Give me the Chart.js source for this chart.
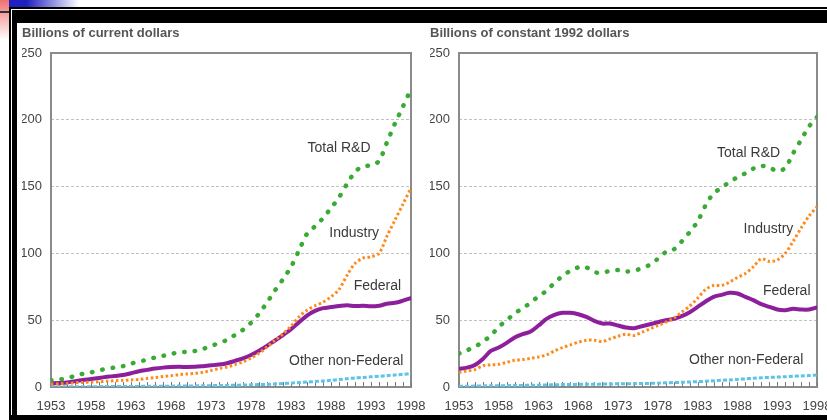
<!DOCTYPE html>
<html><head><meta charset="utf-8">
<script src="https://cdn.jsdelivr.net/npm/chart.js@4"></script>
<style>
html,body{margin:0;padding:0;background:#fff;width:827px;height:420px;overflow:hidden;position:relative}
.d{position:absolute}
canvas{position:absolute}
</style></head><body>
<div class="d" style="left:0;top:0;width:9px;height:40px;background:linear-gradient(#f07070,#fff)"></div>
<div class="d" style="left:9px;top:0;width:70px;height:7px;background:linear-gradient(to right,#2020c0,#2020c0 25%,#fff)"></div>
<div class="d" style="left:9px;top:7px;right:0;height:2px;background:#000"></div>
<div class="d" style="left:12px;top:10px;right:0;height:13px;background:#000"></div>
<div class="d" style="left:9px;top:7px;width:2px;bottom:0;background:#000"></div>
<div class="d" style="left:12px;top:10px;width:5px;bottom:0;background:#000"></div>
<div class="d" style="left:9px;top:415px;right:0;bottom:0;background:#000"></div>
<div class="d" style="left:0;top:11px;width:9px;height:2px;background:#333"></div>
<canvas id="c1" style="left:17px;top:23px" width="413" height="392"></canvas>
<canvas id="c2" style="left:418px;top:23px" width="420" height="392"></canvas>
<script>
const years = [1953,1954,1955,1956,1957,1958,1959,1960,1961,1962,1963,1964,1965,1966,1967,1968,1969,1970,1971,1972,1973,1974,1975,1976,1977,1978,1979,1980,1981,1982,1983,1984,1985,1986,1987,1988,1989,1990,1991,1992,1993,1994,1995,1996,1997,1998];
const xTickLabels = ['1953','1958','1963','1968','1973','1978','1983','1988','1993','1998'];
const yTickValues = [0,50,100,150,200,250];
const seriesNames = ['Total R&D','Industry','Federal','Other non-Federal'];
const titleLeft = 'Billions of current dollars';
const titleRight = 'Billions of constant 1992 dollars';

const currentTotal = [5.1,5.7,6.3,8.5,9.9,10.9,12.5,13.7,14.6,15.6,17.5,19.1,20.3,22.1,23.3,24.7,26.0,26.3,27.0,28.5,30.7,32.9,35.2,39.0,42.8,48.1,54.9,63.2,72.3,80.7,89.9,102.2,114.7,120.2,126.4,133.9,141.9,152.0,160.9,165.4,165.7,169.2,183.2,197.3,210.0,223.0];
const currentIndustry = [2.2,2.4,2.5,3.2,3.4,3.6,3.9,4.4,4.7,5.0,5.3,5.7,6.4,7.1,7.8,8.5,9.3,9.8,10.2,11.0,12.3,13.8,15.0,16.8,18.8,21.6,25.2,30.0,35.0,39.8,45.5,52.5,57.5,60.8,63.5,67.5,73.0,83.5,92.5,96.5,97.5,100.0,113.0,125.0,137.0,149.0];
const currentFederal = [2.8,3.0,3.4,4.4,5.3,6.0,6.8,7.6,8.3,9.0,10.3,11.8,12.8,13.8,14.5,14.9,15.1,15.0,15.1,15.6,16.2,16.8,17.8,19.6,21.5,24.0,27.2,30.8,34.8,38.8,43.2,48.5,53.5,57.0,59.0,59.8,60.6,61.2,60.6,60.8,60.4,60.8,62.3,63.0,64.6,66.5];
const currentOther = [0.15,0.17,0.19,0.21,0.23,0.26,0.28,0.31,0.33,0.36,0.4,0.44,0.5,0.55,0.6,0.65,0.7,0.75,0.8,0.9,1.0,1.1,1.2,1.3,1.45,1.6,1.8,2.0,2.3,2.6,2.9,3.3,3.7,4.1,4.5,5.0,5.6,6.2,6.8,7.2,7.6,8.0,8.5,9.0,9.5,10.0];

const constantTotal = [25,27.5,30,34,38.5,45,50,55,59,63,68,72,78,83,87,89.5,89.5,86,85.5,87,87.5,86.5,87,89,91.5,96,101,103,109,116,124,136,145,149,153.5,157,160,163.5,165.5,164.5,161.5,164,175,185,195,202];
const constantIndustry = [11,12,13,16,16.5,17,18.5,20,20.5,21.5,22.5,24,27,29.5,31.5,33.5,35,35,34,36,38,39.5,38.5,41,43.5,46,48.5,51.5,56,60.5,66.5,73,76,76,78.5,82,85,90,96,94,95,100,109,119,128,135];
const constantFederal = [13.5,14.5,16.5,21,27,29.5,33,37,39.5,41.5,46,51,54,55.5,55.5,54.5,52.5,49.5,47.5,47.5,46,44.5,44,45.5,47,48.5,50,51,53,56,60,64,67.5,69,70.5,70,67.5,65,62,60,58,57.5,58.5,58,58,59.5];
const constantOther = [0.6,0.6,0.7,0.8,0.9,1.0,1.0,1.1,1.2,1.3,1.4,1.5,1.7,1.8,1.9,2.0,2.1,2.1,2.2,2.3,2.4,2.5,2.5,2.6,2.7,2.9,3.1,3.3,3.5,3.8,4.0,4.3,4.6,5.0,5.3,5.7,6.1,6.5,6.9,7.2,7.4,7.7,8.0,8.3,8.6,9.0];

const FONT = '"Liberation Sans", Arial, Helvetica, sans-serif';
const styles = [
  {borderColor:'#3aaa35', borderWidth:4.5, borderDash:[0.5,10], borderCapStyle:'round'},
  {borderColor:'#ff8a1c', borderWidth:3, borderDash:[2.5,2.5], borderCapStyle:'butt'},
  {borderColor:'#8e1f9c', borderWidth:4, borderDash:[], borderCapStyle:'round'},
  {borderColor:'#5cc4e6', borderWidth:3, borderDash:[4,2], borderCapStyle:'butt'}
];

const framePlugin = {
  id:'frame',
  beforeDatasetsDraw(chart){
    const {ctx, chartArea:a} = chart; const x = chart.scales.x;
    ctx.save(); ctx.strokeStyle='#8a8a8a'; ctx.lineWidth=2;
    ctx.strokeRect(a.left, a.top, a.right-a.left, a.bottom-a.top);
    ctx.lineWidth=1; ctx.strokeStyle='#7a7a7a';
    ctx.beginPath();
    years.forEach(v => { const px = Math.round(x.getPixelForValue(v)) + 0.5; ctx.moveTo(px, a.bottom); ctx.lineTo(px, a.bottom - 5); });
    ctx.stroke();
    ctx.restore();
  }
};
const notePlugin = {
  id:'notes',
  afterDatasetsDraw(chart, args, opts){
    const {ctx} = chart; const x = chart.scales.x, y = chart.scales.y;
    ctx.save(); ctx.font = '14px ' + FONT; ctx.fillStyle = '#3a3a3a';
    ctx.textAlign='center'; ctx.textBaseline='middle';
    (opts.items||[]).forEach(n => ctx.fillText(n.text, x.getPixelForValue(n.x), y.getPixelForValue(n.y)));
    ctx.restore();
  }
};

function makeChart(id, title, vals, padL, padR, notes){
  return new Chart(document.getElementById(id), {
    type:'line',
    data:{ datasets: vals.map((arr,i)=>Object.assign({
      label: seriesNames[i],
      data: years.map((yr,k)=>({x:yr, y:arr[k]})),
      pointRadius:0, tension:0.3, fill:false
    }, styles[i])) },
    options:{
      responsive:false, animation:false,
      layout:{padding:{left:padL, right:padR, top:0, bottom:0}},
      plugins:{
        legend:{display:false}, tooltip:{enabled:false},
        title:{display:true, text:title, align:'start', color:'#555',
          font:{family:FONT, size:13, weight:'bold', lineHeight:1.2}, padding:{top:2.2, bottom:12.2}},
        notes:{items:notes}
      },
      scales:{
        x:{type:'linear', min:1953, max:1998,
          afterBuildTicks(s){ s.ticks = xTickLabels.map(v=>({value:Number(v)})); },
          afterFit(s){ s.height = 28; s.paddingLeft = 0; s.paddingRight = 0; },
          grid:{display:false, drawTicks:false, tickLength:0},
          border:{display:false},
          ticks:{autoSkip:false, maxRotation:0, padding:12, color:'#444',
            font:{family:FONT, size:13},
            callback:(v)=> String(v)}
        },
        y:{min:0, max:250,
          afterBuildTicks(s){ s.ticks = yTickValues.map(v=>({value:v})); },
          afterFit(s){ s.width = 29; },
          grid:{drawTicks:false, lineWidth:1,
            color:(c)=> (c.tick && (c.tick.value===0 || c.tick.value===250)) ? 'rgba(0,0,0,0)' : '#c2c2c2'},
          border:{display:false, dash:[3,2]},
          ticks:{padding:9, color:'#444', font:{family:FONT, size:13}}
        }
      }
    },
    plugins:[framePlugin, notePlugin]
  });
}

makeChart('c1', titleLeft, [currentTotal, currentIndustry, currentFederal, currentOther], 5, 19, [
  {text:seriesNames[0], x:1989, y:179},
  {text:seriesNames[1], x:1990.9, y:115},
  {text:seriesNames[2], x:1993.8, y:75.6},
  {text:seriesNames[3], x:1989.9, y:19}
]);
makeChart('c2', titleRight, [constantTotal, constantIndustry, constantFederal, constantOther], 12, 21, [
  {text:seriesNames[0], x:1989.4, y:175},
  {text:seriesNames[1], x:1991.9, y:118},
  {text:seriesNames[2], x:1994.2, y:71.4},
  {text:seriesNames[3], x:1989.1, y:20}
]);
</script>
</body></html>
